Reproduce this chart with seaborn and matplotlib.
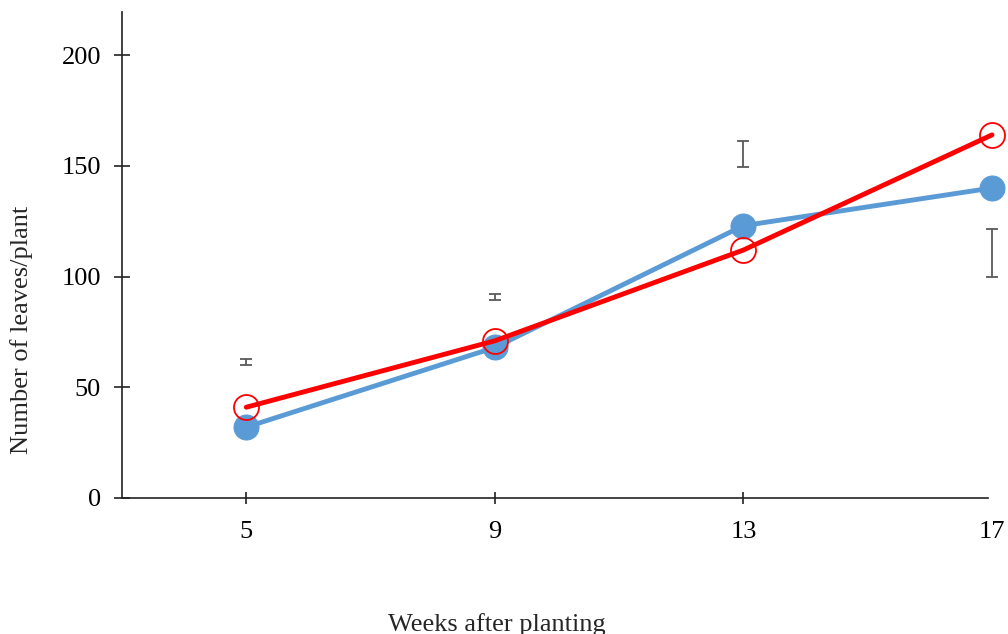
import matplotlib
matplotlib.use("Agg")
import matplotlib.pyplot as plt
import seaborn as sns
import pandas as pd

# Leaf counts per plant over time
weeks = [5, 9, 13, 17]
series_a = [32, 68, 123, 140]      # filled blue markers
series_b = [41, 71, 112, 164]      # open red markers

# Standard-error bars (centre and half-width)
err_center = [61.4, 90.7, 155.3, 110.6]
err_half = [1.4, 1.3, 5.9, 10.8]

sns.set_style("white")
plt.rcParams["font.family"] = ["Liberation Serif", "DejaVu Serif"]

fig = plt.figure(figsize=(10.08, 6.34), dpi=100)
ax = fig.add_axes([122 / 1008, 1 - 498 / 634, 870 / 1008, 486 / 634])

df_a = pd.DataFrame({"week": weeks, "leaves": series_a})
df_b = pd.DataFrame({"week": weeks, "leaves": series_b})

sns.lineplot(data=df_a, x="week", y="leaves", ax=ax, color="#5B9BD5",
             linewidth=3.5, marker="o", markersize=18,
             markeredgecolor="#5B9BD5", markerfacecolor="#5B9BD5",
             clip_on=False, zorder=3)
sns.lineplot(data=df_b, x="week", y="leaves", ax=ax, color="#FF0000",
             linewidth=3.5, marker="o", markersize=18,
             markeredgecolor="#FF0000", markerfacecolor="none",
             markeredgewidth=1.3, clip_on=False, zorder=4)

ax.errorbar(weeks, err_center, yerr=err_half, fmt="none", ecolor="#595959",
            elinewidth=1.3, capsize=4, capthick=1.3, clip_on=False, zorder=2)

ax.set_xlim(3, 17)
ax.set_ylim(0, 219.5)
ax.set_xticks(weeks)
ax.set_yticks([0, 50, 100, 150, 200])
ax.set_xlabel("")
ax.set_ylabel("")

for side in ["top", "right"]:
    ax.spines[side].set_visible(False)
for side in ["left", "bottom"]:
    ax.spines[side].set_color("#222222")
    ax.spines[side].set_linewidth(1.2)
ax.spines["bottom"].set_bounds(3, 16.93)

ax.tick_params(axis="both", direction="inout", width=1.2, bottom=True,
               left=True, colors="#222222", labelcolor="black", labelsize=19)
ax.tick_params(axis="x", length=9, pad=12.2)
ax.tick_params(axis="y", length=11, pad=9.7)
ax.xaxis.get_major_ticks()[-1].tick1line.set_visible(False)

fig.text(22 / 1008, 1 - 330 / 634, "Number of leaves/plant", rotation=90,
         ha="center", va="center", fontsize=19)
fig.text(497 / 1008, 1 - 631 / 634, "Weeks after planting",
         ha="center", va="baseline", fontsize=19)

fig.savefig("out.png", dpi=100)
